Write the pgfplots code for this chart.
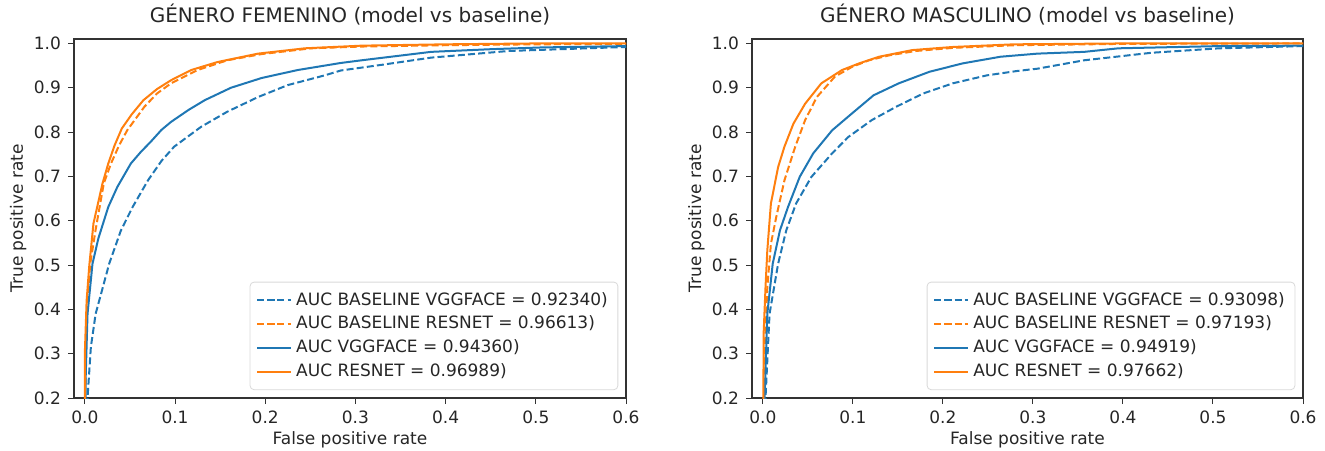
\documentclass[border=0pt]{standalone}
\usepackage{fontspec}
\setmainfont{DejaVu Sans}
\usepackage{pgfplots}
\pgfplotsset{compat=1.18}

\definecolor{tabblue}{HTML}{1F77B4}
\definecolor{taborange}{HTML}{FF7F0E}

\pgfplotsset{
  roc/.style={
    scale only axis,
    width=276pt, height=179.5pt,
    xmin=-0.012, xmax=0.6,
    ymin=0.2, ymax=1.01,
    xtick={0,0.1,0.2,0.3,0.4,0.5,0.6},
    ytick={0.2,0.3,0.4,0.5,0.6,0.7,0.8,0.9,1.0},
    /pgf/number format/.cd, fixed, fixed zerofill, precision=1, assume math mode=true,
    /pgfplots/.cd,
    tick align=outside, tick pos=left,
    major tick length=3pt,
    tick style={black!80, line width=0.5pt},
    axis line style={black!80, line width=0.6pt},
    ticklabel style={font=\fontsize{8.5}{10}\selectfont, text=black!85},
    label style={font=\fontsize{8.5}{10}\selectfont, text=black!85},
    every axis title shift=0pt,
    title style={font=\fontsize{10}{12}\selectfont, text=black!85,
                 at={(axis description cs:0.5,1.067)}, anchor=center},
    xlabel style={at={(axis description cs:0.5,-0.117)}, anchor=center},
    ylabel style={at={(axis description cs:-0.101,0.5)}, anchor=center, rotate=0},
    xlabel={False positive rate},
    ylabel={True positive rate},
    legend cell align=left,
    legend style={at={(axis description cs:0.986,0.022)}, anchor=south east,
      font=\fontsize{8.5}{10}\selectfont, text=black!85,
      draw=black!15, rounded corners=2pt, fill=white, fill opacity=0.8,
      text opacity=1, row sep=0pt, inner xsep=3pt, inner ysep=3pt},
    every axis plot/.append style={line width=1pt},
  },
  bdash/.style={dash pattern=on 3.5pt off 1.6pt},
}

\begin{document}
\begin{tikzpicture}
\useasboundingbox (0,0) rectangle (662.5pt,225pt);

% GENERO FEMENINO
\begin{axis}[roc, at={(37pt,26pt)}, anchor=south west,
  title={GÉNERO FEMENINO (model vs baseline)}]
\addplot[tabblue, bdash] coordinates {
 (0.002,0) (0.003,0.2) (0.0067,0.315) (0.012,0.39) (0.02,0.45) (0.027,0.503)
 (0.04,0.578) (0.053,0.631) (0.07,0.691) (0.085,0.735) (0.099,0.767)
 (0.129,0.812) (0.158,0.846) (0.192,0.879) (0.225,0.906) (0.266,0.928)
 (0.284,0.939) (0.33,0.952) (0.384,0.968) (0.47,0.983) (0.6,0.992)};
\addlegendentry{AUC BASELINE VGGFACE = 0.92340)}
\addplot[taborange, bdash] coordinates {
 (0,0) (0.001,0.3) (0.003,0.42) (0.006,0.503) (0.012,0.58) (0.021,0.684)
 (0.029,0.729) (0.038,0.77) (0.047,0.804) (0.066,0.857) (0.08,0.887)
 (0.0956,0.91) (0.125,0.94) (0.158,0.962) (0.196,0.976) (0.251,0.989)
 (0.307,0.993) (0.4,0.996) (0.5,0.998) (0.6,0.999)};
\addlegendentry{AUC BASELINE RESNET = 0.96613)}
\addplot[tabblue] coordinates {
 (0,0) (0.001,0.25) (0.003,0.39) (0.0085,0.503) (0.015,0.56) (0.026,0.631)
 (0.036,0.676) (0.051,0.729) (0.062,0.755) (0.073,0.778) (0.085,0.805)
 (0.0956,0.823) (0.115,0.85) (0.133,0.872) (0.162,0.900) (0.196,0.922)
 (0.236,0.94) (0.284,0.956) (0.307,0.962) (0.384,0.981) (0.45,0.987)
 (0.507,0.991) (0.6,0.994)};
\addlegendentry{AUC VGGFACE = 0.94360)}
\addplot[taborange] coordinates {
 (0,0) (0.0,0.30) (0.002,0.42) (0.005,0.50) (0.0096,0.594) (0.0196,0.684)
 (0.026,0.729) (0.033,0.77) (0.041,0.808) (0.052,0.84) (0.065,0.872)
 (0.08,0.897) (0.0956,0.917) (0.118,0.94) (0.147,0.958) (0.192,0.977)
 (0.244,0.989) (0.307,0.995) (0.4,0.998) (0.5,1.0) (0.6,1.0)};
\addlegendentry{AUC RESNET = 0.96989)}
\end{axis}

% GENERO MASCULINO
\begin{axis}[roc, at={(376pt,26pt)}, anchor=south west, width=275.5pt,
  title={GÉNERO MASCULINO (model vs baseline)}]
\addplot[tabblue, bdash] coordinates {
 (0.002,0) (0.003,0.2) (0.0075,0.39) (0.017,0.503) (0.026,0.578) (0.037,0.639)
 (0.054,0.699) (0.077,0.752) (0.095,0.789) (0.121,0.827) (0.148,0.857)
 (0.178,0.887) (0.211,0.91) (0.249,0.928) (0.283,0.938) (0.305,0.943)
 (0.357,0.962) (0.432,0.979) (0.507,0.989) (0.6,0.994)};
\addlegendentry{AUC BASELINE VGGFACE = 0.93098)}
\addplot[taborange, bdash] coordinates {
 (0,0) (0.002,0.3) (0.005,0.45) (0.009,0.548) (0.015,0.609) (0.024,0.691)
 (0.036,0.767) (0.047,0.827) (0.06,0.879) (0.08,0.925) (0.099,0.947)
 (0.118,0.962) (0.14,0.973) (0.17,0.983) (0.211,0.99) (0.28,0.996)
 (0.4,0.999) (0.6,1.0)};
\addlegendentry{AUC BASELINE RESNET = 0.97193)}
\addplot[tabblue] coordinates {
 (0,0) (0.002,0.2) (0.005,0.39) (0.011,0.503) (0.019,0.578) (0.028,0.631)
 (0.041,0.699) (0.056,0.752) (0.077,0.804) (0.099,0.842) (0.123,0.883)
 (0.151,0.91) (0.185,0.936) (0.222,0.955) (0.264,0.97) (0.305,0.977)
 (0.357,0.981) (0.395,0.989) (0.507,0.994) (0.6,0.995)};
\addlegendentry{AUC VGGFACE = 0.94919)}
\addplot[taborange] coordinates {
 (0,0) (0.001,0.35) (0.003,0.45) (0.005,0.533) (0.009,0.639) (0.017,0.721)
 (0.024,0.767) (0.034,0.819) (0.047,0.864) (0.065,0.91) (0.088,0.94)
 (0.107,0.955) (0.129,0.97) (0.166,0.985) (0.211,0.992) (0.279,0.998)
 (0.4,1.0) (0.6,1.0)};
\addlegendentry{AUC RESNET = 0.97662)}
\end{axis}
\end{tikzpicture}
\end{document}
